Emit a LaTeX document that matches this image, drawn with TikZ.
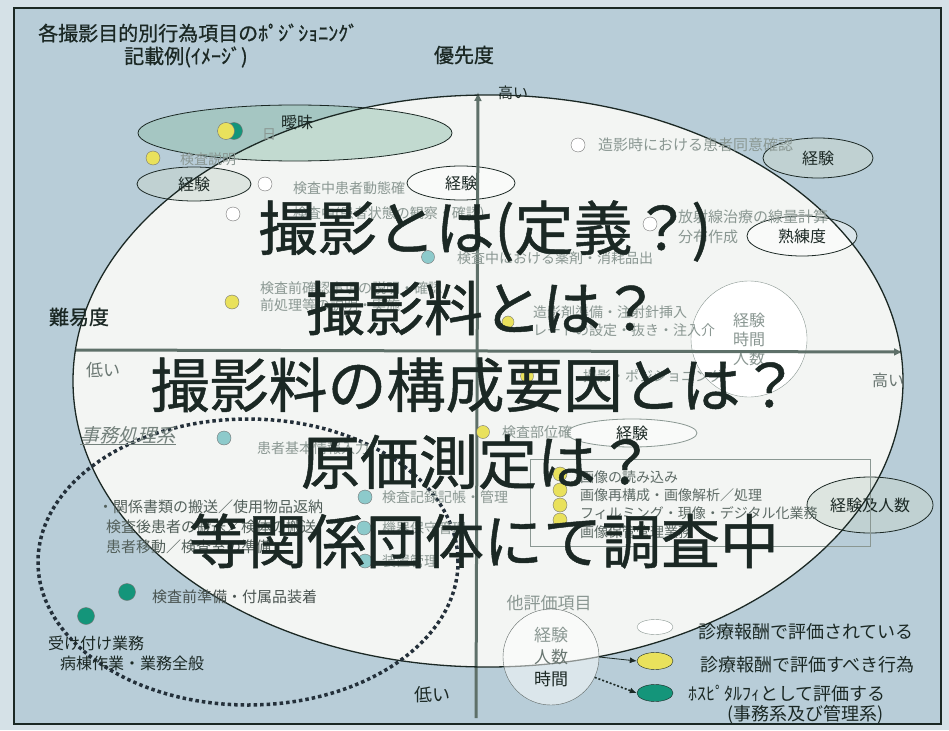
\documentclass[tikz,border=0pt]{standalone}
\usepackage{fontspec}
\setmainfont{Noto Sans CJK JP}
\newfontfamily\slantfont[FakeSlant=0.25]{Noto Sans CJK JP}
\newfontfamily\heavyfont[FakeBold=0.8]{Noto Sans CJK JP}
\usetikzlibrary{shapes.geometric, arrows.meta, positioning}
\definecolor{pagebg}{HTML}{D5E1E7}
\definecolor{bgblue}{HTML}{B8CDD8}
\definecolor{fieldwhite}{HTML}{F3F5F3}
\definecolor{axisgray}{HTML}{5E7069}
\definecolor{inkdark}{HTML}{1B2824}
\definecolor{fadedtext}{HTML}{8A9792}
\definecolor{dotyellow}{HTML}{E9E15C}
\definecolor{dotcyan}{HTML}{8DCACB}
\definecolor{dotgreen}{HTML}{14957A}
\definecolor{ambigreen}{HTML}{93C1AE}
\definecolor{paleell}{HTML}{C9D6CE}
\definecolor{dotnavy}{HTML}{24303A}
\tikzset{
  bigline/.style={text=inkdark, font=\heavyfont\fontsize{59}{60}\selectfont, inner sep=0},
  faint/.style={text=fadedtext, font=\fontsize{14}{15}\selectfont, inner sep=0, anchor=west},
  plain/.style={text=inkdark, font=\fontsize{#1}{#1}\selectfont, inner sep=0},
  bubble/.style={ellipse, draw=inkdark, thick, fill=#1, fill opacity=0.5, text opacity=1, inner sep=0, text=inkdark, font=\fontsize{16}{17}\selectfont},
  dot/.style={circle, draw=black!55, fill=#1, minimum size=14, inner sep=0},
  legendmark/.style={ellipse, draw=inkdark, fill=#1, minimum width=36, minimum height=17, inner sep=0},
  axis/.style={-{Latex[length=9pt,width=8pt]}, line width=3, draw=axisgray},
}

\begin{document}
\begin{tikzpicture}[x=1pt, y=-1pt]
  % canvas and frame
  \useasboundingbox (0,0) rectangle (949,730);
  \fill[pagebg] (0,0) rectangle (949,730);
  \filldraw[fill=bgblue, draw=inkdark, line width=1.5] (14,8) rectangle (941,724);
  \fill[fieldwhite] (488,381) ellipse [x radius=415pt, y radius=286pt];

  % title
  \node[plain=20, anchor=west, font=\heavyfont\fontsize{20}{20}\selectfont] (title) at (38,33) {各撮影目的別行為項目のﾎﾟｼﾞｼｮﾆﾝｸﾞ};
  \node[plain=20, anchor=west, font=\heavyfont\fontsize{20}{20}\selectfont] (subtitle) at (124,57) {記載例(ｲﾒｰｼﾞ)};
  \node[plain=20, font=\heavyfont\fontsize{20}{20}\selectfont] (prio) at (464,55) {優先度};

  % bubbles
  \node[bubble=ambigreen, minimum width=314, minimum height=56] (ambig) at (295,133) {};
  \node[bubble=paleell, minimum width=114, minimum height=34] (expA) at (194,184) {経験};
  \node[bubble=white, minimum width=108, minimum height=34] (expB) at (461,183) {経験};
  \node[bubble=paleell, minimum width=110, minimum height=40] (expC) at (818,158) {経験};
  \node[bubble=white, minimum width=110, minimum height=40] (skill) at (802,236) {熟練度};
  \node[bubble=white, minimum width=130, minimum height=28, draw=fadedtext] (expD) at (632,433) {経験};
  \node[bubble=paleell, minimum width=126, minimum height=56] (expnum) at (870,505) {経験及人数};
  \node[circle, draw=fadedtext, fill=white, minimum size=116, inner sep=0, text=fadedtext, align=center,
        font=\fontsize{16}{19}\selectfont] (ethA) at (749,339) {経験\\時間\\人数};
  \draw[fadedtext, thin] (530,459) rectangle (870,546);

  % axes
  \coordinate (vbot) at (476,718);
  \coordinate (vtop) at (478,92);
  \coordinate (hleft) at (75,350);
  \coordinate (hright) at (903,352);
  \draw[axis] (vbot) -- (vtop);
  \draw[axis] (hleft) -- (hright);
  \node[plain=15] (hiT) at (513,93) {高い};
  \node[plain=20, font=\heavyfont\fontsize{20}{20}\selectfont] (diff) at (79,317) {難易度};
  \node[plain=17, text=fadedtext!70!inkdark] (loL) at (103,370) {低い};
  \node[plain=16, text=fadedtext!70!inkdark] (hiR) at (888,380) {高い};
  \node[plain=18] (loB) at (432,695) {低い};

  % field outlines
  \draw[inkdark, line width=1.3] (488,381) ellipse [x radius=415pt, y radius=286pt];
  \draw[dotnavy, line width=3.5, dash pattern=on 3.5pt off 3pt] (248,562) ellipse [x radius=210pt, y radius=143pt];
  \node[plain=16] (ambigtxt) at (297,122) {曖昧};

  % dots
  \node[dot=dotgreen, minimum size=17] (dA2) at (234,131) {};
  \node[dot=dotyellow, minimum size=17] (dA1) at (226,131) {};
  \node[dot=dotyellow] (dB) at (153,158) {};
  \node[dot=white] (dC) at (265,184) {};
  \node[dot=white] (dD) at (233,214) {};
  \node[dot=white] (dE) at (578,145) {};
  \node[dot=white] (dF) at (650,224) {};
  \node[dot=dotcyan, minimum size=13] (dG) at (428,257) {};
  \node[dot=dotyellow] (dH) at (232,302) {};
  \node[dot=dotyellow, minimum size=12] (dI) at (508,322) {};
  \node[dot=dotyellow, minimum size=13] (dJ) at (527,376) {};
  \node[dot=dotyellow, minimum size=13] (dK) at (483,432) {};
  \foreach \y [count=\i] in {474,490,505,520}
    \node[dot=dotyellow] (img\i) at (560,\y) {};
  \node[dot=dotcyan] (dL) at (224,438) {};
  \node[dot=dotcyan] (dM) at (365,497) {};
  \node[dot=dotcyan] (dN) at (364,528) {};
  \node[dot=dotcyan] (dO) at (365,561) {};
  \node[dot=dotgreen, minimum size=17] (dP) at (127,592) {};
  \node[dot=dotgreen, minimum size=17] (dQ) at (86,616) {};

  % item texts
  \node[faint] at (262,135) {日};
  \node[faint] at (180,159) {検査説明};
  \node[faint] at (293,188) {検査中患者動態確};
  \node[faint] at (293,214) {検査中(患者状態の観察・確認)};
  \node[faint, font=\fontsize{15}{16}\selectfont] at (598,145) {造影時における患者同意確認};
  \node[faint, font=\fontsize{15}{16}\selectfont] at (678,217) {放射線治療の線量計算};
  \node[faint, font=\fontsize{15}{16}\selectfont] at (678,237) {分布作成};
  \node[faint] at (457,258) {検査中における薬剤・消耗品出};
  \node[faint] at (260,288) {検査前確認事項の説明・確認};
  \node[faint] at (260,305) {前処理等の説明・実施};
  \node[faint] at (533,312) {造影剤準備・注射針挿入};
  \node[faint] at (533,330) {レートの設定・抜き・注入介};
  \node[faint] at (583,376) {撮影・ポジショニング};
  \node[faint] at (502,432) {検査部位確};
  \node[faint] at (257,448) {患者基本情報入力};
  \node[faint] at (382,497) {検査記録記帳・管理};
  \node[faint] at (382,528) {機器保守管理};
  \node[faint] at (382,561) {装置管理};
  \node[faint, text=fadedtext!60!inkdark] at (580,477) {画像の読み込み};
  \node[faint, text=fadedtext!60!inkdark] at (580,495) {画像再構成・画像解析／処理};
  \node[faint, text=fadedtext!60!inkdark] at (580,513) {フィルミング・現像・デジタル化業務};
  \node[faint, text=fadedtext!60!inkdark] at (580,532) {画像保管管理業務};

  % clerical group
  \node[plain=19, text=fadedtext!80!inkdark, font=\slantfont\fontsize{19}{19}\selectfont] (clerk) at (128,435) {事務処理系};
  \draw[fadedtext!80!inkdark, thick] (clerk.south west) -- (clerk.south east);
  \node[faint, text=fadedtext!50!inkdark, font=\fontsize{15}{16}\selectfont] at (98,507) {・関係書類の搬送／使用物品返納};
  \node[faint, text=fadedtext!50!inkdark, font=\fontsize{15}{16}\selectfont] at (106,527) {検査後患者の搬送／検体の搬送};
  \node[faint, text=fadedtext!50!inkdark, font=\fontsize{15}{16}\selectfont] at (106,547) {患者移動／検査室の準備};
  \node[plain=15, anchor=west, text=inkdark!80] (prep) at (152,597) {検査前準備・付属品装着};
  \node[plain=16, anchor=west] (recep) at (48,643) {受け付け業務};
  \node[plain=16, anchor=west] (ward) at (60,663) {病棟作業・業務全般};

  % other evaluation items and legend
  \node[plain=17, text=fadedtext] (other) at (549,603) {他評価項目};
  \node[circle, draw=inkdark!70, fill=white, fill opacity=0.5, text opacity=1, minimum size=96, inner sep=0, align=center,
        font=\fontsize{17}{22}\selectfont] (ethB) at (551,657)
        {\textcolor{fadedtext}{経験}\\\textcolor{fadedtext!70!inkdark}{人数}\\\textcolor{inkdark}{時間}};
  \node[legendmark=white, draw=fadedtext, minimum height=15] (legW) at (655,627) {};
  \node[legendmark=dotyellow] (legY) at (655,661) {};
  \node[legendmark=dotgreen] (legG) at (655,693) {};
  \draw[-{Latex[length=7pt,width=6pt]}, inkdark, thick] (ethB.east) -- (legY.west);
  \draw[-{Latex[length=7pt,width=6pt]}, inkdark, line width=1.6, dash pattern=on 2pt off 2pt] (ethB.-25) -- (legG.west);
  \node[plain=18, anchor=west] (legWt) at (698,632) {診療報酬で評価されている};
  \node[plain=18, anchor=west] (legYt) at (700,665) {診療報酬で評価すべき行為};
  \node[plain=18, anchor=west] (legGt) at (688,694) {ﾎｽﾋﾟﾀﾙﾌｨとして評価する};
  \node[plain=18, anchor=west] (legGt2) at (727,715) {(事務系及び管理系)};

  % overlay questions
  \node[bigline] (q1) at (485,231) {撮影とは(定義？)};
  \node[bigline] (q2) at (483,308) {撮影料とは？};
  \node[bigline] (q3) at (475,385) {撮影料の構成要因とは？};
  \node[bigline] (q4) at (478,462) {原価測定は？};
  \node[bigline] (q5) at (484,541) {等関係団体にて調査中};
\end{tikzpicture}
\end{document}
